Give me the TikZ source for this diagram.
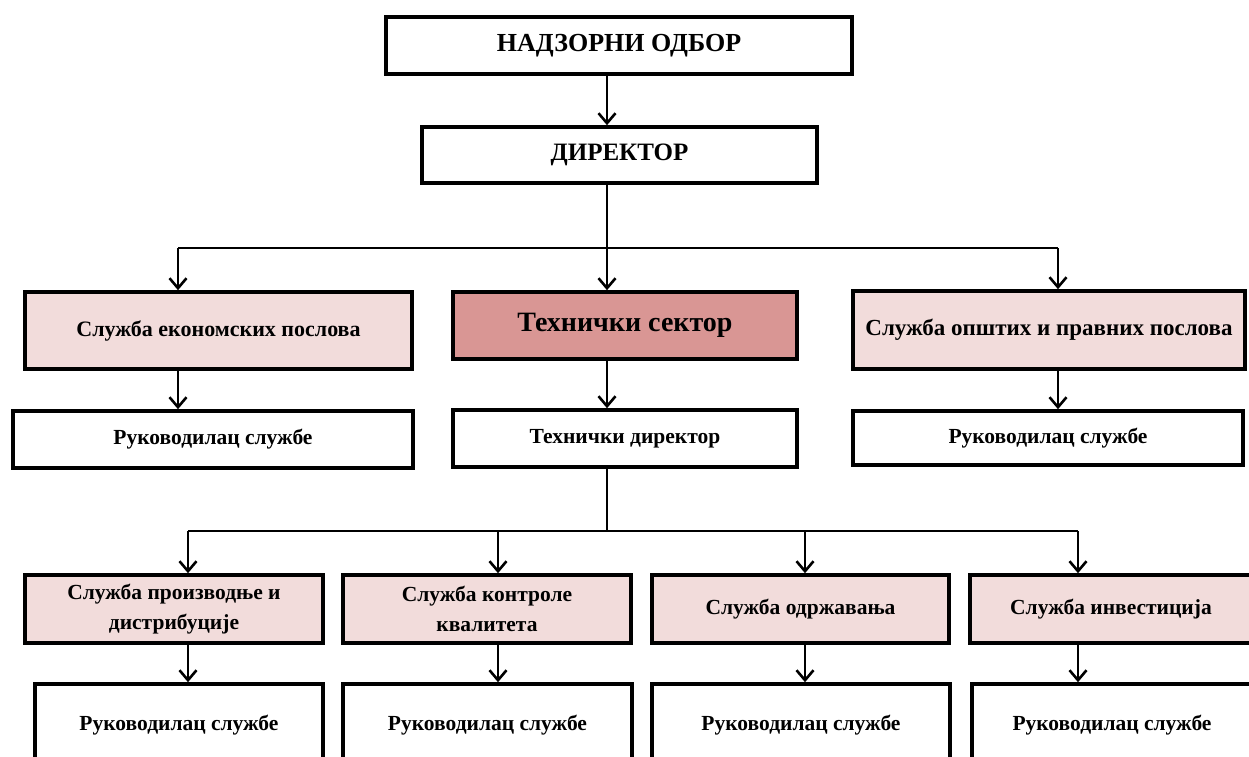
\documentclass[tikz,border=0pt]{standalone}
\usepackage{fontspec}
\setmainfont{Liberation Serif}
\usetikzlibrary{arrows.meta}
\definecolor{pinkfill}{HTML}{F2DCDB}
\definecolor{techfill}{HTML}{D99694}
\begin{document}
\begin{tikzpicture}[x=1pt,y=-1pt,
  box/.style={draw=black, line width=3.6pt, inner sep=0pt, align=center, fill=white,
    font=\bfseries\fontsize{21.5}{30}\selectfont},
  pinkbox/.style={box, fill=pinkfill},
  arr/.style={line width=2.6pt, -{Straight Barb[length=10pt,width=17pt,line width=2.6pt]}},
  ln/.style={line width=2.6pt}]
\clip (0,0) rectangle (1249,756);
\fill[white] (0,0) rectangle (1249,756);
% top
\node[box, minimum width=466pt, minimum height=57pt, font=\bfseries\fontsize{26}{28}\selectfont] (nad) at (619,45.5) {НАДЗОРНИ ОДБОР};
\node[box, minimum width=395pt, minimum height=56pt, font=\bfseries\fontsize{25}{28}\selectfont] (dir) at (619.5,155) {ДИРЕКТОР};
% row 1
\node[pinkbox, minimum width=387pt, minimum height=77pt, font=\bfseries\fontsize{22}{26}\selectfont] (econ) at (218.5,330.5) {Служба економских послова};
\node[box, fill=techfill, minimum width=344pt, minimum height=67pt, font=\bfseries\fontsize{28}{30}\selectfont] (tech) at (625,325.5) {Технички сектор};
\node[pinkbox, minimum width=392pt, minimum height=78pt, font=\bfseries\fontsize{23}{26}\selectfont] (gen) at (1049,330) {Служба општих и правних послова};
% row 2
\node[box, minimum width=400pt, minimum height=57pt] (rl) at (213,439.5) {Руководилац службе};
\node[box, minimum width=344pt, minimum height=57pt] (rm) at (625,438.5) {Технички директор};
\node[box, minimum width=390pt, minimum height=54pt] (rr) at (1048,438) {Руководилац службе};
% row 3
\node[pinkbox, minimum width=298pt, minimum height=68pt] (s1) at (174,609) {Служба производње и\\дистрибуције};
\node[pinkbox, minimum width=288pt, minimum height=68pt] (s2) at (487,609) {Служба контроле\\квалитета};
\node[pinkbox, minimum width=297pt, minimum height=68pt] (s3) at (800.5,609) {Служба одржавања};
\node[pinkbox, minimum width=282pt, minimum height=68pt] (s4) at (1111,609) {Служба инвестиција};
% row 4
\node[box, minimum width=288pt, minimum height=82pt] (m1) at (179,725) {Руководилац службе};
\node[box, minimum width=289pt, minimum height=82pt] (m2) at (487.5,725) {Руководилац службе};
\node[box, minimum width=298pt, minimum height=82pt] (m3) at (801,725) {Руководилац службе};
\node[box, minimum width=280pt, minimum height=82pt] (m4) at (1112,725) {Руководилац службе};
% bus coordinates
\coordinate (ax) at (607,0);
\coordinate (b1) at (607,248);
\coordinate (k1) at (178,248);
\coordinate (k3) at (1058,248);
\coordinate (b2) at (607,531);
\coordinate (c1) at (188,531);
\coordinate (c2) at (498,531);
\coordinate (c3) at (805,531);
\coordinate (c4) at (1078,531);
% connectors
\draw[arr] (nad.south -| ax) -- (dir.north -| ax);
\draw[ln] (dir.south -| ax) -- (b1);
\draw[ln] (k1) -- (k3);
\draw[arr] (k1) -- (econ.north -| k1);
\draw[arr] (b1) -- (tech.north -| b1);
\draw[arr] (k3) -- (gen.north -| k3);
\draw[arr] (econ.south -| k1) -- (rl.north -| k1);
\draw[arr] (tech.south -| b1) -- (rm.north -| b1);
\draw[arr] (gen.south -| k3) -- (rr.north -| k3);
\draw[ln] (rm.south -| ax) -- (b2);
\draw[ln] (c1) -- (c4);
\draw[arr] (c1) -- (s1.north -| c1);
\draw[arr] (c2) -- (s2.north -| c2);
\draw[arr] (c3) -- (s3.north -| c3);
\draw[arr] (c4) -- (s4.north -| c4);
\draw[arr] (s1.south -| c1) -- (m1.north -| c1);
\draw[arr] (s2.south -| c2) -- (m2.north -| c2);
\draw[arr] (s3.south -| c3) -- (m3.north -| c3);
\draw[arr] (s4.south -| c4) -- (m4.north -| c4);
\end{tikzpicture}
\end{document}
